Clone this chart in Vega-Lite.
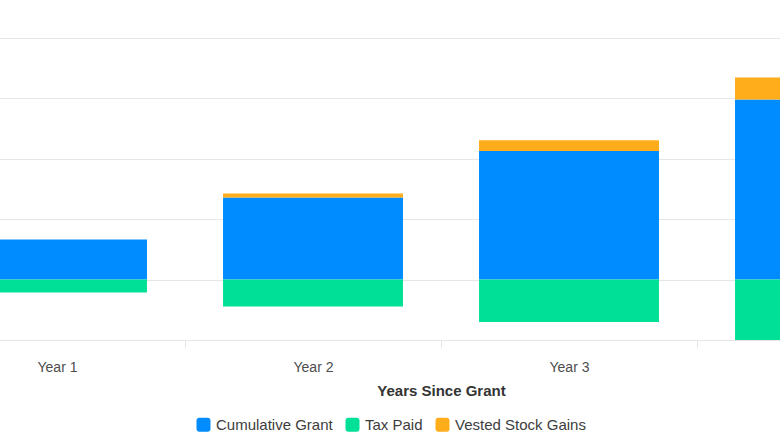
{
  "$schema": "https://vega.github.io/schema/vega-lite/v6.json",
  "width": 780,
  "height": 302,
  "autosize": {"type": "none"},
  "padding": {"left": 0, "top": 38, "right": 0, "bottom": 98},
  "background": "white",
  "config": {"view": {"stroke": null}, "font": "Liberation Sans"},
  "data": {
    "values": [
      {"year": "Year 1", "series": "Cumulative Grant", "ord": 1, "value": 6620},
      {"year": "Year 1", "series": "Tax Paid", "ord": 2, "value": -2150},
      {"year": "Year 1", "series": "Vested Stock Gains", "ord": 3, "value": 0},
      {"year": "Year 2", "series": "Cumulative Grant", "ord": 1, "value": 13580},
      {"year": "Year 2", "series": "Tax Paid", "ord": 2, "value": -4470},
      {"year": "Year 2", "series": "Vested Stock Gains", "ord": 3, "value": 660},
      {"year": "Year 3", "series": "Cumulative Grant", "ord": 1, "value": 21290},
      {"year": "Year 3", "series": "Tax Paid", "ord": 2, "value": -7020},
      {"year": "Year 3", "series": "Vested Stock Gains", "ord": 3, "value": 1770},
      {"year": "Year 4", "series": "Cumulative Grant", "ord": 1, "value": 29800},
      {"year": "Year 4", "series": "Tax Paid", "ord": 2, "value": -10000},
      {"year": "Year 4", "series": "Vested Stock Gains", "ord": 3, "value": 3640}
    ]
  },
  "mark": {"type": "bar", "width": {"band": 0.703}},
  "encoding": {
    "x": {
      "field": "year",
      "type": "nominal",
      "sort": ["Year 1", "Year 2", "Year 3", "Year 4"],
      "scale": {"range": [-71, 953], "paddingInner": 0, "paddingOuter": 0},
      "axis": {
        "title": "Years Since Grant",
        "labelAngle": 0,
        "tickBand": "extent",
        "grid": false,
        "domainColor": "#e6e6e6",
        "tickColor": "#e6e6e6",
        "tickSize": 8,
        "labelFontSize": 14,
        "labelColor": "#4d4d4d",
        "labelPadding": 12,
        "titleFontSize": 15,
        "titleFontWeight": "bold",
        "titleColor": "#333333",
        "titlePadding": 9
      }
    },
    "y": {
      "field": "value",
      "type": "quantitative",
      "stack": "zero",
      "scale": {"domain": [-10000, 40000], "nice": false},
      "axis": {
        "labels": false,
        "ticks": false,
        "domain": false,
        "title": null,
        "gridColor": "#e6e6e6",
        "values": [-10000, 0, 10000, 20000, 30000, 40000]
      }
    },
    "color": {
      "field": "series",
      "type": "nominal",
      "scale": {
        "domain": ["Cumulative Grant", "Tax Paid", "Vested Stock Gains"],
        "range": ["#008cff", "#00e096", "#ffad1a"]
      },
      "legend": {
        "orient": "none",
        "legendX": 196,
        "legendY": 379,
        "direction": "horizontal",
        "title": null,
        "symbolType": "M -0.6,-1 H 0.6 A 0.4,0.4 0 0 1 1,-0.6 V 0.6 A 0.4,0.4 0 0 1 0.6,1 H -0.6 A 0.4,0.4 0 0 1 -1,0.6 V -0.6 A 0.4,0.4 0 0 1 -0.6,-1 Z",
        "symbolSize": 196,
        "symbolStrokeWidth": 0,
        "symbolOpacity": 1,
        "labelFontSize": 15,
        "labelColor": "#3d3d3d",
        "labelOffset": 5,
        "columnPadding": 12
      }
    },
    "order": {"field": "ord", "type": "quantitative"}
  }
}
